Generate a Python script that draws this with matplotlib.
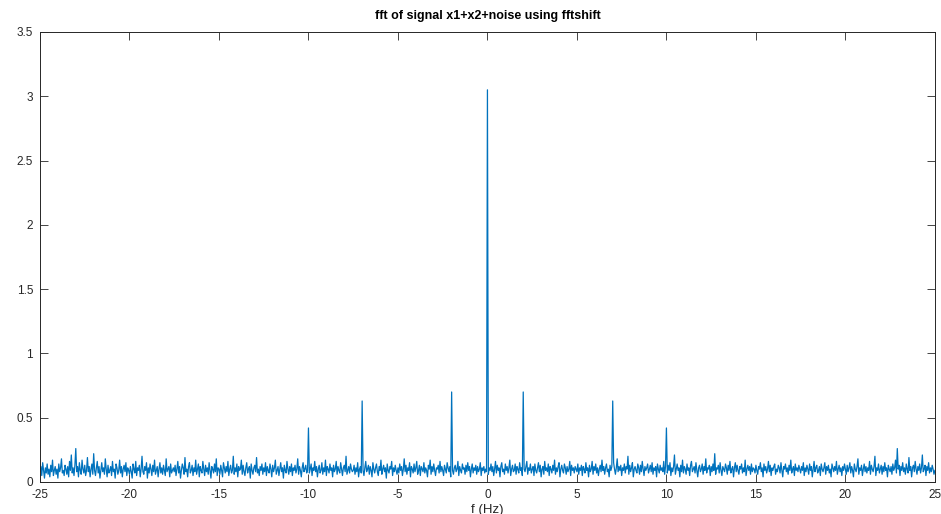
import numpy as np
import matplotlib.pyplot as plt

# noise floor of |FFT|, in hundredths, sampled evenly from -25 Hz to 25 Hz
noise = [
    8, 12, 5, 15, 9, 3, 11, 7, 14, 6, 10, 4, 13, 8, 17, 5, 9, 12, 6, 10, 3, 14, 8, 11, 18, 7, 9, 5, 13, 10, 6, 12, 4, 16, 9, 21, 7, 11, 5, 13, 26, 8, 12, 4, 15, 9, 6, 17, 10, 7,
    13, 5, 9, 19, 8, 12, 4, 10, 14, 6, 22, 9, 5, 11, 16, 7, 12, 3, 9, 15, 8, 11, 6, 18, 10, 4, 13, 7, 9, 12, 5, 16, 8, 10, 3, 14, 11, 6, 9, 17, 7, 12, 4, 10, 13, 8, 15, 5, 11, 9,
    6, 12, 8, 3, 14, 10, 7, 16, 5, 11, 9, 13, 4, 10, 20, 8, 6, 12, 9, 15, 3, 11, 7, 14, 10, 5, 13, 8, 17, 6, 9, 12, 4, 10, 15, 7, 11, 6, 13, 9, 5, 18, 8, 10, 12, 4, 14, 7, 9, 11,
    8, 13, 5, 10, 16, 7, 12, 3, 9, 14, 11, 6, 19, 8, 10, 4, 12, 15, 7, 9, 13, 5, 11, 8, 17, 6, 10, 14, 4, 12, 9, 7, 16, 10, 5, 13, 8, 11, 6, 15, 9, 3, 12, 10, 7, 14, 8, 18, 5, 11,
    10, 6, 13, 9, 4, 15, 11, 7, 12, 8, 16, 5, 10, 13, 7, 9, 20, 6, 11, 8, 14, 4, 12, 9, 10, 17, 6, 13, 8, 5, 11, 15, 7, 10, 12, 3, 14, 9, 6, 11, 13, 8, 19, 7, 10, 5, 12, 9, 14, 6,
    11, 8, 15, 5, 12, 9, 7, 14, 10, 4, 13, 8, 11, 17, 6, 9, 12, 5, 10, 15, 8, 11, 3, 13, 9, 7, 16, 10, 6, 12, 8, 14, 5, 11, 9, 13, 7, 10, 18, 6, 12, 9, 4, 11, 15, 8, 10, 13, 7, 9,
    12, 7, 10, 14, 5, 11, 9, 16, 8, 12, 4, 10, 13, 7, 9, 15, 6, 11, 8, 17, 5, 12, 10, 7, 14, 9, 11, 4, 13, 8, 10, 16, 6, 12, 9, 7, 15, 10, 5, 11, 13, 8, 20, 6, 9, 12, 7, 14, 10, 8,
    9, 13, 6, 11, 8, 15, 4, 10, 12, 7, 14, 9, 5, 11, 16, 8, 10, 13, 6, 12, 9, 4, 15, 10, 7, 11, 14, 8, 5, 12, 9, 17, 6, 10, 13, 8, 11, 3, 14, 9, 7, 12, 10, 16, 5, 11, 8, 13, 9, 6,
    11, 7, 14, 9, 12, 5, 10, 18, 8, 13, 6, 11, 9, 15, 4, 12, 10, 7, 14, 8, 11, 16, 6, 9, 13, 5, 12, 10, 8, 15, 7, 11, 9, 4, 13, 10, 17, 6, 12, 8, 14, 9, 5, 11, 10, 13, 7, 16, 8, 12,
    9, 5, 13, 10, 7, 15, 11, 8, 12, 4, 14, 9, 6, 11, 13, 8, 10, 16, 5, 12, 9, 7, 14, 10, 11, 6, 13, 8, 15, 9, 12, 4, 10, 14, 7, 11, 9, 13, 6, 12, 8, 10, 15, 5, 11, 9, 12, 7, 10, 8,
    13, 6, 11, 9, 14, 8, 12, 5, 10, 16, 7, 13, 9, 11, 4, 12, 15, 8, 10, 6, 14, 9, 12, 7, 11, 17, 5, 10, 13, 8, 9, 14, 6, 12, 10, 7, 15, 9, 11, 5, 13, 10, 8, 12, 16, 6, 11, 9, 14, 7,
    10, 12, 5, 14, 9, 7, 11, 15, 8, 13, 4, 10, 12, 6, 16, 9, 11, 8, 14, 5, 12, 10, 7, 13, 9, 17, 6, 11, 8, 12, 15, 4, 10, 13, 9, 7, 14, 11, 6, 12, 8, 10, 16, 5, 13, 9, 11, 7, 12, 10,
    8, 14, 6, 11, 9, 13, 5, 12, 10, 7, 15, 9, 11, 4, 13, 8, 10, 16, 6, 12, 9, 14, 7, 11, 5, 10, 13, 8, 17, 9, 12, 6, 11, 14, 8, 10, 4, 13, 9, 12, 7, 15, 10, 6, 11, 18, 8, 12, 9, 13,
    5, 11, 9, 14, 7, 12, 10, 20, 6, 13, 8, 11, 15, 4, 10, 12, 9, 7, 14, 11, 6, 13, 8, 16, 10, 5, 12, 9, 11, 14, 7, 10, 13, 8, 15, 6, 11, 9, 12, 4, 14, 10, 7, 13, 9, 11, 8, 16, 6, 12,
    10, 7, 13, 9, 15, 5, 11, 8, 12, 21, 6, 10, 14, 9, 11, 4, 13, 8, 17, 7, 12, 10, 6, 14, 9, 11, 5, 13, 16, 8, 10, 12, 7, 15, 9, 4, 11, 13, 8, 10, 14, 6, 12, 9, 18, 7, 11, 10, 13, 5,
    12, 8, 14, 9, 22, 6, 11, 10, 13, 7, 15, 9, 5, 12, 10, 8, 14, 11, 6, 13, 9, 16, 7, 10, 12, 4, 11, 15, 8, 13, 9, 6, 12, 10, 14, 7, 11, 8, 17, 5, 10, 13, 9, 12, 6, 14, 8, 11, 10, 7,
    13, 9, 6, 12, 10, 15, 8, 11, 4, 14, 9, 12, 7, 10, 16, 8, 13, 5, 11, 9, 12, 14, 6, 10, 8, 13, 11, 7, 15, 9, 4, 12, 10, 14, 8, 11, 6, 13, 9, 17, 7, 10, 12, 5, 14, 9, 11, 8, 13, 10,
    7, 12, 9, 15, 5, 11, 8, 13, 10, 6, 14, 9, 12, 4, 10, 16, 8, 11, 13, 7, 9, 12, 5, 14, 10, 8, 11, 15, 6, 12, 9, 13, 7, 10, 4, 14, 11, 8, 12, 9, 16, 6, 10, 13, 8, 11, 5, 12, 9, 14,
    10, 6, 13, 8, 11, 15, 7, 12, 9, 4, 14, 10, 8, 12, 18, 6, 11, 9, 13, 5, 10, 14, 8, 12, 7, 11, 9, 16, 6, 13, 10, 8, 12, 20, 5, 11, 9, 14, 7, 10, 13, 6, 12, 8, 15, 9, 11, 4, 13, 10,
    8, 12, 6, 14, 9, 11, 17, 7, 26, 10, 13, 5, 12, 9, 15, 8, 11, 6, 14, 10, 7, 19, 9, 12, 4, 11, 13, 8, 16, 10, 6, 12, 9, 14, 7, 11, 21, 8, 10, 13, 5, 12, 9, 15, 7, 11, 8, 13, 10, 6, 9,
]

# tone peaks of x1 + x2 (two-sided spectrum)
peak_freqs = [-10, -7, -2, 0, 2, 7, 10]
peak_vals = [0.42, 0.63, 0.70, 3.05, 0.70, 0.63, 0.42]

f = np.linspace(-25, 25, len(noise))
mag = np.array(noise) / 100.0
for pf, pv in zip(peak_freqs, peak_vals):
    mag[np.argmin(np.abs(f - pf))] = pv

plt.rcParams['font.family'] = ['Liberation Sans', 'DejaVu Sans']
plt.rcParams['axes.unicode_minus'] = False

fig = plt.figure(figsize=(9.41, 5.14), dpi=100)
ax = fig.add_axes([0.0425, 0.0623, 0.951, 0.8755])

ax.plot(f, mag, color='#0072BD', linewidth=0.9)

ax.set_xlim(-25, 25)
ax.set_ylim(0, 3.5)
ax.set_xticks(np.arange(-25, 26, 5))
ax.set_yticks(np.arange(0, 3.6, 0.5))
ax.set_yticklabels(['0', '0.5', '1', '1.5', '2', '2.5', '3', '3.5'])

ax.set_title('fft of signal x1+x2+noise using fftshift', fontsize=9,
             fontweight='bold', pad=9, color='black')
ax.set_xlabel('f (Hz)', fontsize=9.5, color='#262626', labelpad=2)

# MATLAB-like box: ticks inside on all four sides
ax.tick_params(axis='both', direction='in', top=True, right=True,
               length=6, width=0.6, labelsize=8.5, colors='#262626')
ax.tick_params(axis='x', pad=5)
ax.tick_params(axis='y', pad=5)
for s in ax.spines.values():
    s.set_color('#262626')
    s.set_linewidth(0.7)

fig.savefig('out.png', dpi=100)
